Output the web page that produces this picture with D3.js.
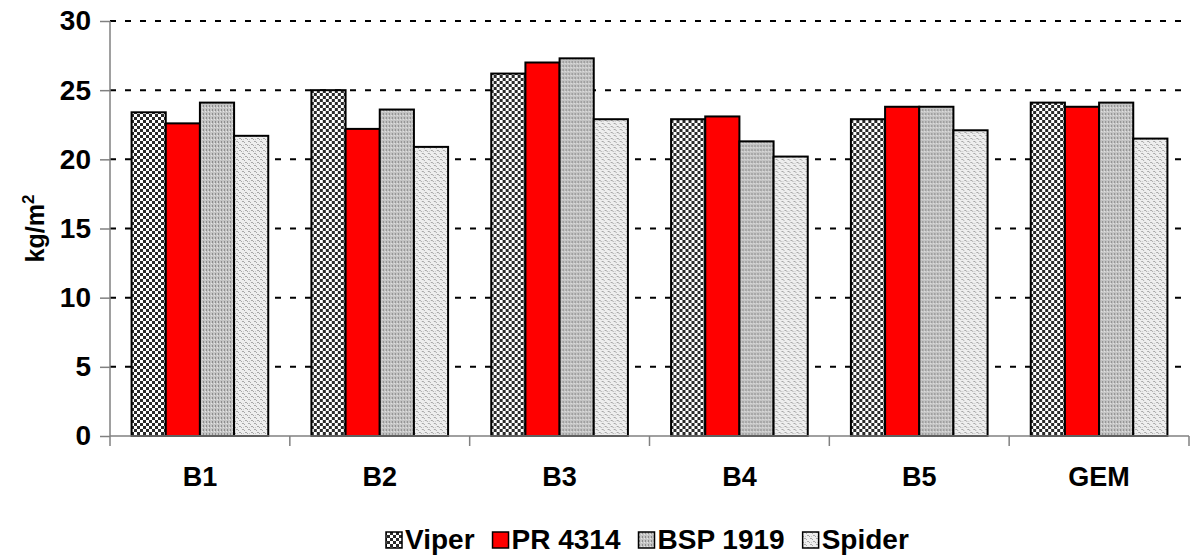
<!DOCTYPE html>
<html>
<head>
<meta charset="utf-8">
<script src="https://cdn.jsdelivr.net/npm/d3@7"></script>
<style>
  body { margin: 0; background: #fff; }
  text { font-family: "Liberation Sans", Arial, sans-serif; font-weight: bold; }
</style>
</head>
<body>
<div id="chart"></div>
<script>
// data
const categories = ["B1", "B2", "B3", "B4", "B5", "GEM"];
const seriesNames = ["Viper", "PR 4314", "BSP 1919", "Spider"];
const viper  = [23.4, 25.0, 26.2, 22.9, 22.9, 24.1];
const pr4314 = [22.6, 22.2, 27.0, 23.1, 23.8, 23.8];
const bsp1919 = [24.1, 23.6, 27.3, 21.3, 23.8, 24.1];
const spider = [21.7, 20.9, 22.9, 20.2, 22.1, 21.5];
const yTicks = [0, 5, 10, 15, 20, 25, 30];

const allSeries = [viper, pr4314, bsp1919, spider];
const fills = ["url(#pViper)", "#ff0000", "url(#pBsp)", "url(#pSpider)"];

const W = 1196, H = 558;
const margin = {top: 21, right: 7, bottom: 122, left: 110};
const width = W - margin.left - margin.right,
      height = H - margin.top - margin.bottom;

const svg = d3.select("#chart").append("svg")
  .attr("width", W).attr("height", H);

// fill patterns
const defs = svg.append("defs");
const pv = defs.append("pattern").attr("id", "pViper")
  .attr("patternUnits", "userSpaceOnUse").attr("width", 6).attr("height", 6);
pv.append("rect").attr("width", 6).attr("height", 6).attr("fill", "#fff");
pv.append("rect").attr("width", 3).attr("height", 3).attr("fill", "#2a2a2a");
pv.append("rect").attr("x", 3).attr("y", 3).attr("width", 3).attr("height", 3).attr("fill", "#2a2a2a");

const pb = defs.append("pattern").attr("id", "pBsp")
  .attr("patternUnits", "userSpaceOnUse").attr("width", 3).attr("height", 4);
pb.append("rect").attr("width", 3).attr("height", 4).attr("fill", "#c4c4c4");
pb.append("rect").attr("x", 0).attr("y", 0).attr("width", 1).attr("height", 2).attr("fill", "#8c8c8c");
pb.append("rect").attr("x", 2).attr("y", 2).attr("width", 1).attr("height", 1).attr("fill", "#e6e6e6");

const ps = defs.append("pattern").attr("id", "pSpider")
  .attr("patternUnits", "userSpaceOnUse").attr("width", 6).attr("height", 6);
ps.append("rect").attr("width", 6).attr("height", 6).attr("fill", "#eeeeee");
ps.append("rect").attr("x", 0).attr("y", 0).attr("width", 2).attr("height", 1).attr("fill", "#a8a8a8");
ps.append("rect").attr("x", 2).attr("y", 1).attr("width", 1).attr("height", 1).attr("fill", "#a8a8a8");
ps.append("rect").attr("x", 3).attr("y", 3).attr("width", 2).attr("height", 1).attr("fill", "#a8a8a8");
ps.append("rect").attr("x", 5).attr("y", 4).attr("width", 1).attr("height", 1).attr("fill", "#a8a8a8");
ps.append("rect").attr("x", 1).attr("y", 4).attr("width", 1).attr("height", 1).attr("fill", "#c8c8c8");

const g = svg.append("g")
  .attr("transform", "translate(" + margin.left + "," + margin.top + ")");

const x0 = d3.scaleBand().domain(categories).range([0, width]).paddingInner(0).paddingOuter(0);
const inner = 0.12; // fraction of band left empty on each side
const x1 = d3.scaleBand().domain(d3.range(seriesNames.length))
  .range([x0.bandwidth() * inner, x0.bandwidth() * (1 - inner)]);
const y = d3.scaleLinear().domain([0, 30]).range([height, 0]);

// dashed grid lines
g.append("g").selectAll("line")
  .data(yTicks.filter(d => d > 0))
  .enter().append("line")
  .attr("x1", 0).attr("x2", width)
  .attr("y1", d => y(d)).attr("y2", d => y(d))
  .attr("stroke", "#000").attr("stroke-width", 2)
  .attr("stroke-dasharray", "6,9");

// bars
categories.forEach(function(c, i) {
  g.append("g")
    .attr("transform", "translate(" + x0(c) + ",0)")
    .selectAll("rect")
    .data(allSeries.map((s, k) => ({k: k, v: s[i]})))
    .enter().append("rect")
    .attr("x", d => x1(d.k))
    .attr("y", d => y(d.v))
    .attr("width", x1.bandwidth())
    .attr("height", d => height - y(d.v))
    .attr("fill", d => fills[d.k])
    .attr("stroke", "#000")
    .attr("stroke-width", 2);
});

// y axis
const yAxis = g.append("g")
  .call(d3.axisLeft(y).tickValues(yTicks).tickSize(10).tickPadding(9));
yAxis.select(".domain").attr("stroke", "#808080").attr("stroke-width", 1.5)
  .attr("d", "M0," + y(0) + "V" + y(30));
yAxis.selectAll(".tick line").attr("stroke", "#808080").attr("stroke-width", 1.5);
yAxis.selectAll(".tick text").attr("fill", "#000")
  .style("font-size", "28px").style("font-weight", "bold");

// x axis
const xAxis = g.append("g").attr("transform", "translate(0," + height + ")");
xAxis.append("line").attr("x1", 0).attr("x2", width)
  .attr("stroke", "#808080").attr("stroke-width", 1.5);
xAxis.selectAll(".sep")
  .data(categories.map(c => x0(c)).concat([width]))
  .enter().append("line")
  .attr("x1", d => d).attr("x2", d => d).attr("y1", 0).attr("y2", 10)
  .attr("stroke", "#808080").attr("stroke-width", 1.5);
xAxis.selectAll(".lab")
  .data(categories)
  .enter().append("text")
  .attr("x", d => x0(d) + x0.bandwidth() / 2)
  .attr("y", 50)
  .attr("text-anchor", "middle")
  .style("font-size", "27px")
  .text(d => d);

// y axis title
const yt = svg.append("text")
  .attr("transform", "translate(44," + (margin.top + height / 2) + ") rotate(-90)")
  .attr("text-anchor", "middle")
  .style("font-size", "25px");
yt.append("tspan").text("kg/m");
yt.append("tspan").attr("dy", -10).style("font-size", "17px").text("2");

// legend, laid out left to right
const legend = svg.append("g").attr("transform", "translate(0,532)");
let lx = 386;
seriesNames.forEach(function(n, k) {
  legend.append("rect")
    .attr("x", lx).attr("y", 0).attr("width", 16).attr("height", 16)
    .attr("fill", fills[k]).attr("stroke", "#000").attr("stroke-width", 1.5);
  const t = legend.append("text")
    .attr("x", lx + 19).attr("y", 17)
    .style("font-size", "28px")
    .text(n);
  lx += 19 + t.node().getComputedTextLength() + 18;
});
</script>
</body>
</html>
